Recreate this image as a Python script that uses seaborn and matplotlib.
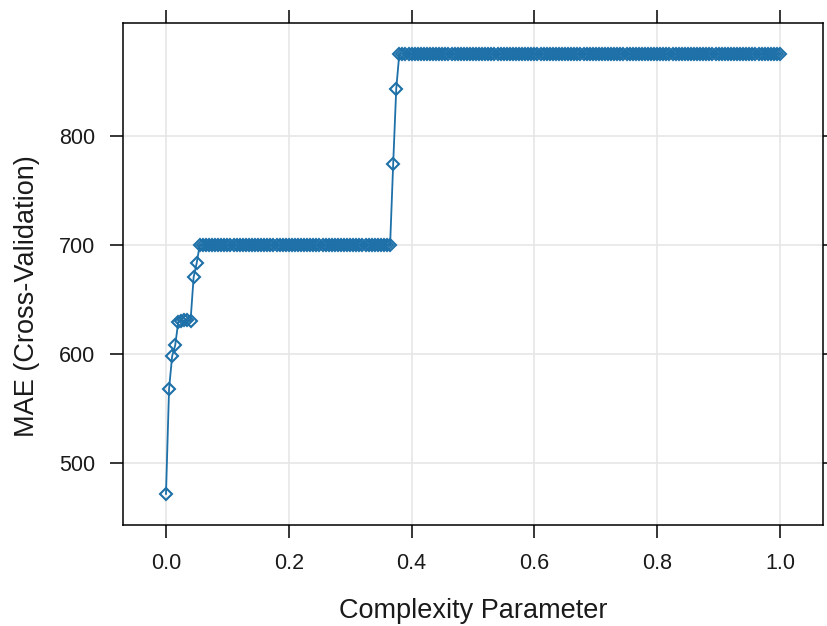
import numpy as np
import pandas as pd
import matplotlib
matplotlib.use("Agg")
import matplotlib.pyplot as plt
import seaborn as sns

# Tuning grid of the complexity parameter and cross-validated MAE for each value
cp = np.round(np.linspace(0.0, 1.0, 201), 3)
mae = (
    [471.0, 567.5, 597.5, 607.5, 629.0, 630.0, 630.5, 630.5, 630.0, 670.0, 683.0]
    + [699.5] * 63
    + [774.0, 843.0]
    + [875.0] * 125
)

x_ticks = [0.0, 0.2, 0.4, 0.6, 0.8, 1.0]
y_ticks = [500, 600, 700, 800]
x_label = "Complexity Parameter"
y_label = "MAE (Cross-Validation)"

df = pd.DataFrame({"cp": cp, "MAE": mae})

sns.set_theme(style="white")
plt.rcParams["font.family"] = ["Liberation Sans", "DejaVu Sans"]

line_color = "#1D70A8"
ink = "#1a1a1a"

fig = plt.figure(figsize=(8.27, 6.26), dpi=100)
ax = fig.add_axes([123 / 827, 1 - 525 / 626, 700 / 827, 502 / 626])

sns.lineplot(
    data=df, x="cp", y="MAE", ax=ax,
    color=line_color, linewidth=1.3,
    marker="D", markersize=6.6, markerfacecolor="none",
    markeredgecolor=line_color, markeredgewidth=1.5,
    zorder=3,
)

# lattice-style padding of 7% around the data range
xmin, xmax = 0.0, 1.0
xr = xmax - xmin
ymin, ymax = min(mae), max(mae)
yr = ymax - ymin
ax.set_xlim(xmin - 0.07 * xr, xmax + 0.07 * xr)
ax.set_ylim(ymin - 0.07 * yr, ymax + 0.07 * yr)

ax.set_xticks(x_ticks)
ax.set_xticklabels([f"{v:.1f}" for v in x_ticks])
ax.set_yticks(y_ticks)
ax.set_yticklabels([str(v) for v in y_ticks])

ax.grid(True, color="#E6E6E6", linewidth=1.2, zorder=0)
ax.set_axisbelow(True)

for s in ax.spines.values():
    s.set_visible(True)
    s.set_color("black")
    s.set_linewidth(1.1)

ax.tick_params(
    axis="both", which="major", direction="out", length=9.5, width=1.1,
    color="black", labelsize=15.5, labelcolor=ink, pad=10.5,
    top=True, right=True, bottom=True, left=True,
    labeltop=False, labelright=False,
)

ax.set_xlabel(x_label, fontsize=19.5, color=ink, va="center")
ax.xaxis.set_label_coords(0.5, -(611 - 525) / 502)
ax.set_ylabel(y_label, fontsize=19.5, color=ink, va="center")
ax.yaxis.set_label_coords(-(123 - 27) / 700, (525 - 296) / 502)

fig.savefig("out.png", dpi=100, facecolor="white")
